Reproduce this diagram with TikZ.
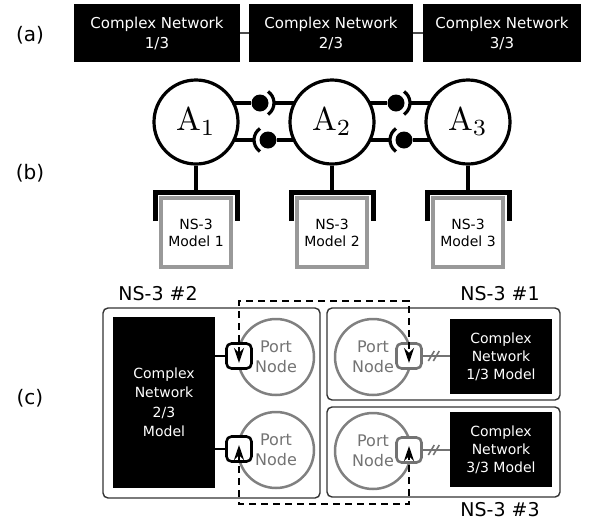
\documentclass[tikz,border=0pt]{standalone}
\usepackage[no-math]{fontspec}
\setmainfont{DejaVu Sans}
\usetikzlibrary{calc,arrows.meta}

\begin{document}
\begin{tikzpicture}[x=1pt,y=-1pt,
    partlab/.style={font=\fontsize{20}{20}\selectfont},
    cnbox/.style={fill=black,text=white,align=center,inner sep=0pt,minimum height=58pt,font=\fontsize{15}{20}\selectfont},
    agent/.style={circle,draw,line width=3.2pt,fill=white,minimum size=84pt,inner sep=0pt,font=\fontsize{10}{10}\selectfont},
    nsmodel/.style={draw=black!40,line width=3.5pt,fill=white,minimum width=70pt,minimum height=69pt,align=center,inner sep=0pt,font=\fontsize{14}{17}\selectfont},
    wire/.style={line width=3.2pt},
    bracket/.style={line width=5pt},
    ball/.style={circle,fill=black,minimum size=17pt,inner sep=0pt},
    host/.style={draw=black!80,rounded corners=5pt,line width=1.4pt,inner sep=0pt},
    hostlab/.style={font=\fontsize{19}{19}\selectfont},
    cnmodel/.style={fill=black,text=white,align=center,inner sep=0pt,minimum width=102pt},
    portnode/.style={circle,draw=black!50,line width=2.5pt,text=black!55,minimum size=76pt,inner sep=0pt,align=center,font=\fontsize{16}{20}\selectfont},
    port/.style={draw,rounded corners=5pt,line width=2.6pt,fill=white,minimum width=25pt,minimum height=25pt,inner sep=0pt},
    tunnel/.style={dash pattern=on 7pt off 5pt,line width=2.4pt,{Stealth[length=15pt,width=10pt]}-{Stealth[length=15pt,width=10pt]}}]

    \useasboundingbox (0,0) rectangle (592,520);

    \node[partlab] (la) at (30,35) {(a)};
    \node[partlab] (lb) at (30,173) {(b)};
    \node[partlab] (lc) at (30,398) {(c)};

    \node[cnbox,minimum width=166pt] (cn1) at (157,33) {Complex Network\\1/3};
    \node[cnbox,minimum width=164pt] (cn2) at (331,33) {Complex Network\\2/3};
    \node[cnbox,minimum width=158pt] (cn3) at (502,33) {Complex Network\\3/3};
    \draw[black!70,line width=2pt] (cn1) -- (cn2);
    \draw[black!70,line width=2pt] (cn2) -- (cn3);

    \foreach \i/\x in {1/196,2/332,3/468} {
        \node[agent] (A\i) at (\x,122) {\scalebox{3.3}{$\mathrm{A}_{\i}$}};
        \node[nsmodel] (M\i) at (\x,232.5) {NS-3\\Model \i};
        \coordinate (K\i) at (\x,192);
        \draw[wire] (A\i) -- (K\i);
        \draw[bracket] (\x-41,221) -- (\x-41,192) -- (\x+41,192) -- (\x+41,221);
    }

    \foreach \i/\j/\m in {1/2/264,2/3/400} {
        \node[ball] (Bu\i) at (\m-4,103) {};
        \node[ball] (Bd\i) at (\m+4,140) {};
        \draw[wire] ($(A\i)+(37.5,-19)$) -- (Bu\i);
        \draw[wire] ([shift={(55:14)}]Bu\i.center) arc (55:-55:14);
        \draw[wire] ([xshift=14pt]Bu\i.center) -- ($(A\j)+(-37.5,-19)$);
        \draw[wire] ($(A\i)+(37.5,18)$) -- ([xshift=-14pt]Bd\i.center);
        \draw[wire] ([shift={(125:14)}]Bd\i.center) arc (125:235:14);
        \draw[wire] (Bd\i) -- ($(A\j)+(-37.5,18)$);
    }

    \node[host,minimum width=217pt,minimum height=190pt] (H2) at (211.5,403) {};
    \node[host,minimum width=233pt,minimum height=92pt] (H1) at (443.5,354) {};
    \node[host,minimum width=233pt,minimum height=90pt] (H3) at (443.5,452) {};
    \node[hostlab] (L2) at (158,294) {NS-3 \#2};
    \node[hostlab] (L1) at (500,294) {NS-3 \#1};
    \node[hostlab] (L3) at (500,510) {NS-3 \#3};

    \node[cnmodel,minimum height=171pt,font=\fontsize{14}{19.5}\selectfont] (cm2) at (164,402.5) {Complex\\Network\\2/3\\Model};
    \node[cnmodel,minimum height=75pt,font=\fontsize{14}{18}\selectfont] (cm1) at (501,356.5) {Complex\\Network\\1/3 Model};
    \node[cnmodel,minimum height=75pt,font=\fontsize{14}{18}\selectfont] (cm3) at (501,449.5) {Complex\\Network\\3/3 Model};

    \node[portnode] (pn2a) at (276,357) {Port\\Node};
    \node[portnode] (pn2b) at (276,450) {Port\\Node};
    \node[portnode] (pn1) at (373,357) {Port\\Node};
    \node[portnode] (pn3) at (373,451) {Port\\Node};

    \node[port] (pt2a) at (239,356) {};
    \node[port] (pt2b) at (239,449) {};
    \node[port,draw=black!55] (pt1) at (409,356) {};
    \node[port,draw=black!55] (pt3) at (409,450) {};

    \draw[line width=2.2pt] (cm2.east |- pt2a) -- (pt2a);
    \draw[line width=2.2pt] (cm2.east |- pt2b) -- (pt2b);
    \foreach \p/\c in {pt1/cm1,pt3/cm3} {
        \draw[black!55,line width=2.2pt] (\p) -- (\c.west |- \p);
        \foreach \d in {-2.5,2.5}
            \draw[black!55,line width=1.6pt] ($(\p.east)+(11+\d,0)$) ++(-3,5) -- ++(6,-10);
    }

    \coordinate (top) at (0,301);
    \coordinate (bot) at (0,504);
    \draw[tunnel] ([yshift=-7pt]pt2a.center) -- (pt2a |- top) -- (pt1 |- top) -- ([yshift=-7pt]pt1.center);
    \draw[tunnel] ([yshift=4pt]pt2b.center) -- (pt2b |- bot) -- (pt3 |- bot) -- ([yshift=4pt]pt3.center);

\end{tikzpicture}
\end{document}
